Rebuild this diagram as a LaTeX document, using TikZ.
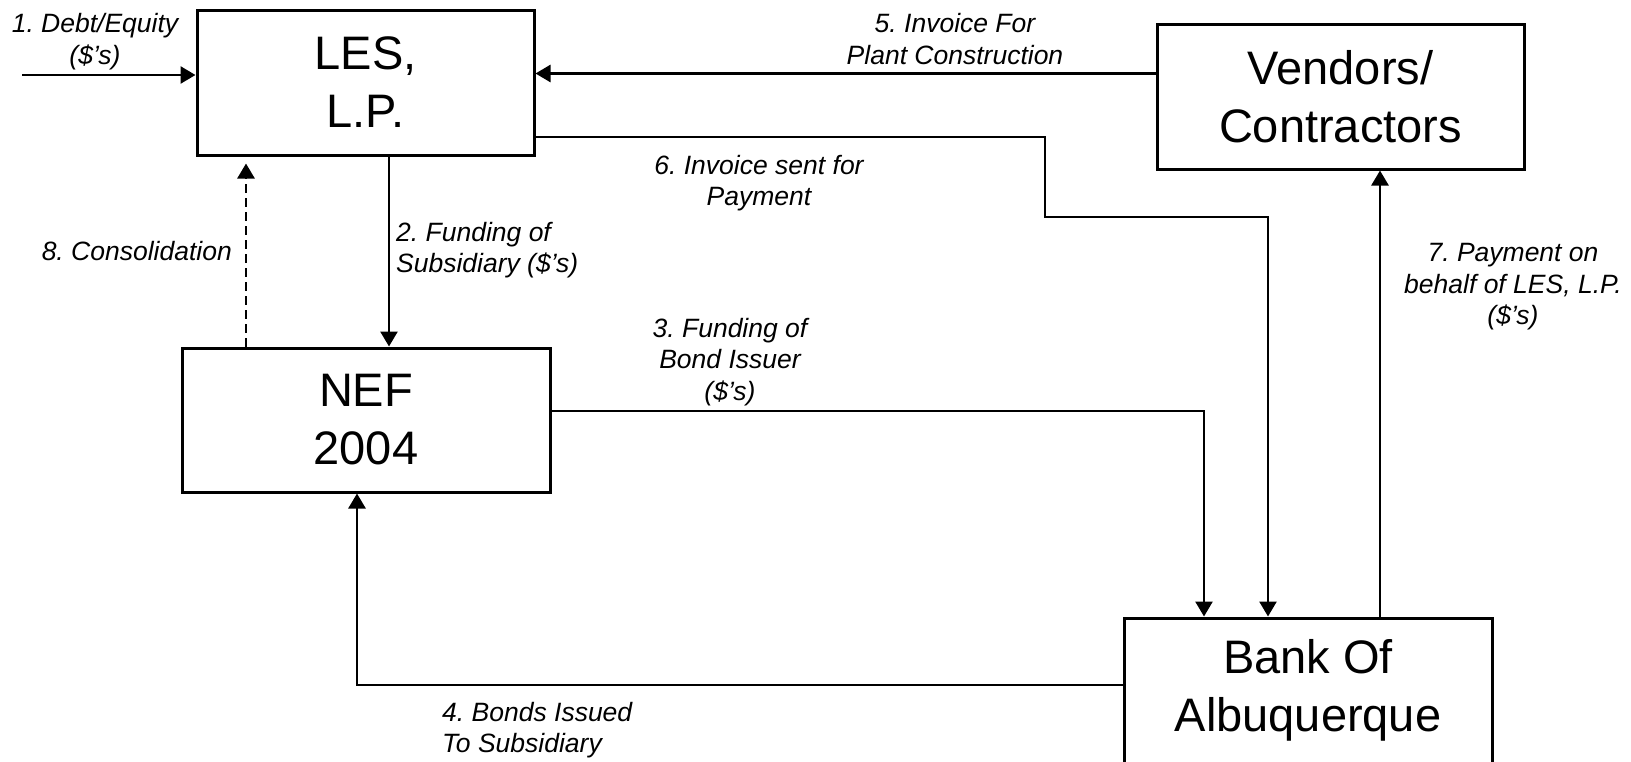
\documentclass[tikz,border=0pt]{standalone}
\usepackage{fontspec}
\setmainfont{Liberation Sans}
\usetikzlibrary{arrows.meta}
\frenchspacing
\begin{document}
\begin{tikzpicture}[x=1pt,y=-1pt,
  box/.style={draw=black, line width=3pt, minimum width=#1, minimum height=145pt,
    inner sep=0pt, align=center, font=\fontsize{47}{58}\selectfont},
  lbl/.style={font=\fontsize{26.5}{31.5}\selectfont\itshape, inner sep=0pt, align=center},
  link/.style={line width=2.6pt},
  flow/.style={link, -{Triangle[length=15pt,width=17pt]}}
]
\clip (0,0) rectangle (1631,761);
\fill[white] (0,0) rectangle (1631,761);

% boxes
\node[box=337pt] (les) at (365.5,82.5) {LES,\\L.P.};
\node[box=367pt] (ven) at (1340.5,96.5) {Vendors/\\Contractors};
\node[box=368pt, minimum height=144pt] (nef) at (366,420) {NEF\\2004};
\node[box=368pt] (bank) at (1308,690.5) {Bank Of\\Albuquerque};

% helper coordinates
\coordinate (in1) at (22,75);
\coordinate (y5) at (0,73.5);
\coordinate (a2) at (389,0);
\coordinate (a8) at (246,0);
\coordinate (b3) at (1204,411);
\coordinate (b4) at (357,685);
\coordinate (b6a) at (1045,137);
\coordinate (b6b) at (1268,217);
\coordinate (a7) at (1380,0);

% connectors
\draw[flow] (in1) -- (in1 -| les.west);
\draw[flow] (ven.west |- y5) -- (les.east |- y5);
\draw[flow] (les.south -| a2) -- (nef.north -| a2);
\draw[flow, dashed, dash pattern=on 9pt off 5pt, shorten >=7pt] (nef.north -| a8) -- (les.south -| a8);
\draw[flow] (nef.east |- b3) -- (b3) -- (b3 |- bank.north);
\draw[flow] (bank.west |- b4) -- (b4) -- (b4 |- nef.south);
\draw[flow] (les.east |- b6a) -- (b6a) |- (b6b) -- (b6b |- bank.north);
\draw[flow] (bank.north -| a7) -- (ven.south -| a7);

% labels
\node[lbl] (l1) at (95,41.5) {1. Debt/Equity\\(\$'s)};
\node[lbl, anchor=west, align=left] (l2) at (396,250) {2. Funding of\\Subsidiary (\$'s)};
\node[lbl] (l3) at (730,362) {3. Funding of\\Bond Issuer\\(\$'s)};
\node[lbl, anchor=west, align=left] (l4) at (442,730) {4. Bonds Issued\\To Subsidiary};
\node[lbl] (l5) at (955,39) {5. Invoice For\\Plant Construction};
\node[lbl] (l6) at (759,183) {6. Invoice sent for\\Payment};
\node[lbl] (l7) at (1513,287) {7. Payment on\\behalf of LES, L.P.\\(\$'s)};
\node[lbl, anchor=east] (l8) at (232,251) {8. Consolidation};
\end{tikzpicture}
\end{document}
